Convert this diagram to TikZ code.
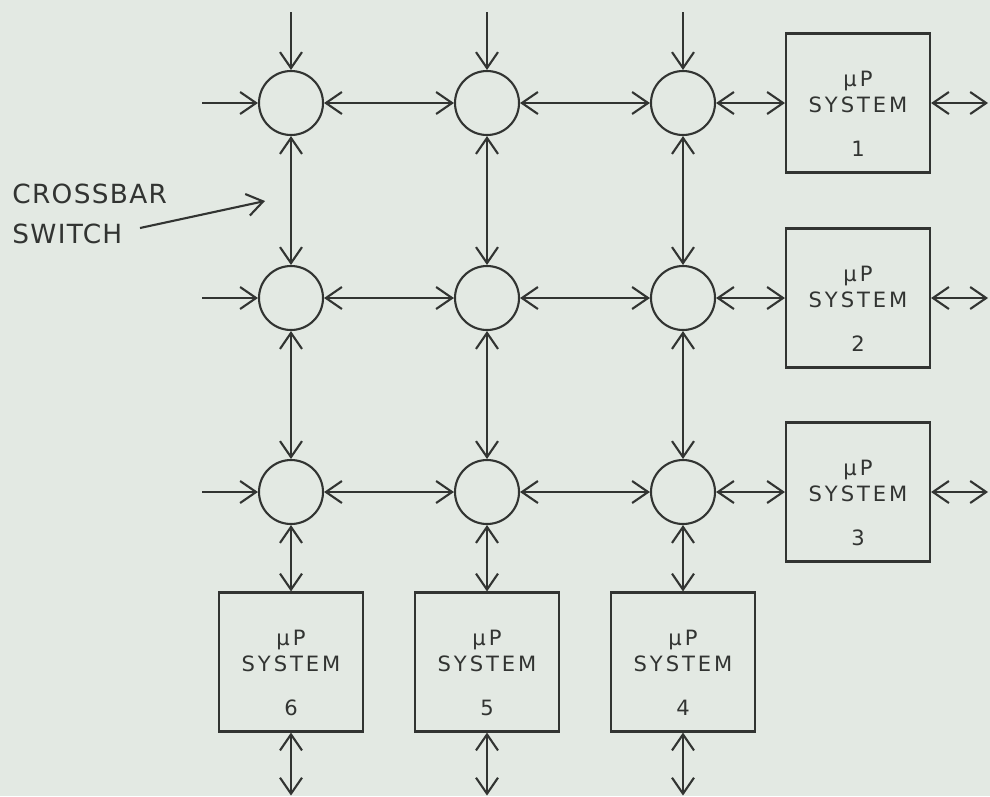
\documentclass[tikz,border=0pt]{standalone}
\usepackage{fontspec}
\setmainfont{DejaVu Sans}
\newfontfamily\labelfont[LetterSpace=5]{DejaVu Sans}
\newfontfamily\boxfont[LetterSpace=14]{DejaVu Sans}
\usetikzlibrary{arrows.meta,calc}
\definecolor{paper}{RGB}{227,233,227}
\definecolor{ink}{RGB}{50,52,50}

\tikzset{
  >={Straight Barb[length=0.32cm,width=0.44cm]},
  link/.style={draw=ink, line width=1.2pt},
  xpoint/.style={circle, draw=ink, line width=1.2pt, minimum size=1.28cm, inner sep=0pt},
  sysbox/.style={rectangle, draw=ink, line width=1.2pt, minimum width=2.88cm, minimum height=2.78cm, inner sep=0pt},
  systext/.style={font=\boxfont\fontsize{12pt}{14.8pt}\selectfont, text=ink, align=center, inner sep=0pt},
}

\begin{document}
\begin{tikzpicture}[x=0.02cm, y=-0.02cm]
  \fill[paper] (0,0) rectangle (990,796);
  \useasboundingbox (0,0) rectangle (990,796);

  % crosspoints
  \foreach \r/\y in {1/103, 2/298, 3/492}
    \foreach \c/\x in {1/291, 2/487, 3/683}
      \node[xpoint] (c\r\c) at (\x,\y) {};

  % systems on the right
  \foreach \r in {1,2,3} {
    \node[sysbox] (s\r) at ($(c\r3)+(175,0)$) {};
    \node[systext] (ts\r) at ($(s\r.center)+(0,11)$) {μP\\SYSTEM\\[10pt]\r};
  }
  % systems below
  \foreach \c/\n in {1/6, 2/5, 3/4} {
    \node[sysbox] (b\c) at ($(c3\c)+(0,170)$) {};
    \node[systext] (tb\c) at ($(b\c.center)+(0,11)$) {μP\\SYSTEM\\[10pt]\n};
  }

  % inputs from the top and from the left
  \foreach \c/\x in {1/291, 2/487, 3/683} {
    \coordinate (top\c) at (\x,12);
    \draw[link,->] (top\c) -- (c1\c);
  }
  \foreach \r/\y in {1/103, 2/298, 3/492} {
    \coordinate (left\r) at (202,\y);
    \draw[link,->] (left\r) -- (c\r1);
  }

  % rows
  \foreach \r in {1,2,3} {
    \draw[link,<->] (c\r1) -- (c\r2);
    \draw[link,<->] (c\r2) -- (c\r3);
    \draw[link,<->] (c\r3) -- (c\r3 -| s\r.west);
    \coordinate (out\r) at ($(s\r.east)+(57,0)$);
    \draw[link,<->] (s\r) -- (out\r);
  }
  % columns
  \foreach \c in {1,2,3} {
    \draw[link,<->] (c1\c) -- (c2\c);
    \draw[link,<->] (c2\c) -- (c3\c);
    \draw[link,<->] (c3\c) -- (b\c);
    \coordinate (bot\c) at ($(b\c.south)+(0,63)$);
    \draw[link,<->] (b\c) -- (bot\c);
  }

  % label
  \node[font=\labelfont\fontsize{15pt}{23pt}\selectfont, text=ink, anchor=west, align=left, inner sep=0pt] (xlabel) at (12,214) {CROSSBAR\\SWITCH};
  \coordinate (xtail) at (140,228);
  \coordinate (xtip) at (265,201);
  \draw[link,->] (xtail) -- (xtip);
\end{tikzpicture}
\end{document}
